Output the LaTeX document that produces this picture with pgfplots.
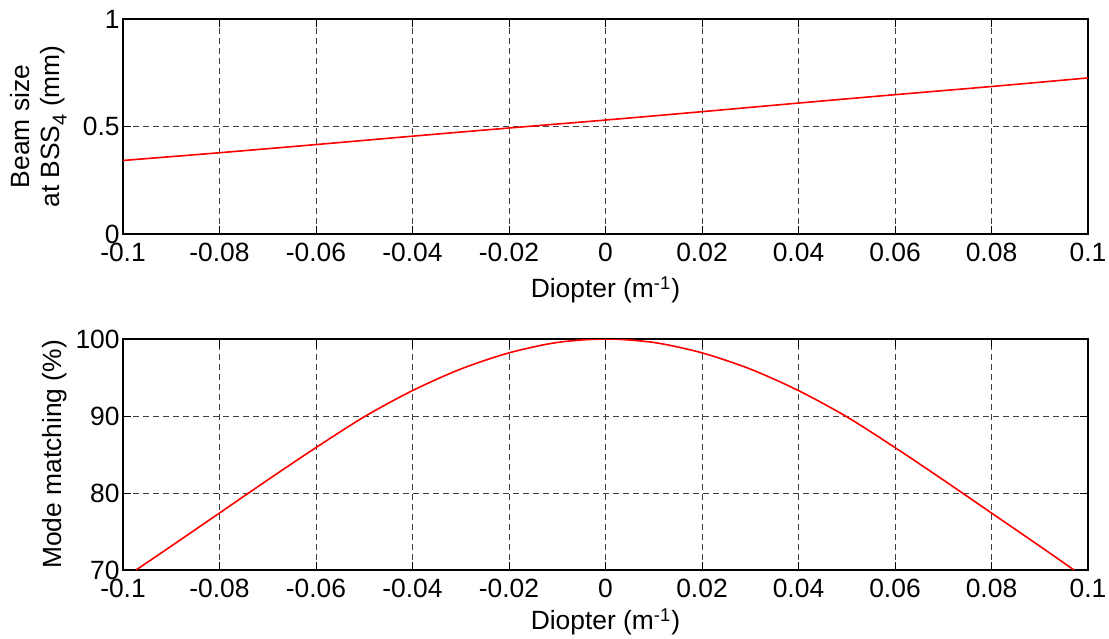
\documentclass[border=0pt]{standalone}
\usepackage{pgfplots}
\pgfplotsset{compat=1.18}
\usepackage{fontspec}
\setmainfont{Liberation Sans}
\newcommand{\bigf}{\fontsize{13.2}{15}\selectfont}
\begin{document}
\begin{tikzpicture}
\path[use as bounding box] (-61.5pt,-202pt) rectangle (493pt,117pt);
\pgfplotsset{
  mystyle/.style={
    scale only axis,
    width=482.5pt,
    xmin=-0.1, xmax=0.1,
    xtick={-0.1,-0.08,-0.06,-0.04,-0.02,0,0.02,0.04,0.06,0.08,0.1},
    xticklabels={-0.1,-0.08,-0.06,-0.04,-0.02,0,0.02,0.04,0.06,0.08,0.1},
    /pgf/number format/assume math mode=true,
    tick align=inside,
    major tick length=4pt,
    tick style={black, line width=0.4pt},
    axis line style={black, line width=0.6pt},
    grid=major,
    major grid style={black!75, dash pattern=on 3pt off 2pt, line width=0.4pt},
    xlabel={Diopter (m\textsuperscript{-1})},
    xlabel style={at={(axis description cs:0.5,0)}, anchor=north, inner sep=0pt, font=\bigf},
    ylabel style={at={(axis description cs:-0.058,0.5)}, anchor=south, inner sep=0pt, align=center, font=\bigf},
    x tick label style={yshift=-3.5pt, inner sep=1pt, font=\bigf},
    y tick label style={xshift=0pt, inner sep=1.5pt, font=\bigf},
  }
}
\begin{axis}[mystyle,
  at={(0,0)}, anchor=south west,
  height=107.5pt,
  ymin=0, ymax=1,
  ytick={0,0.5,1},
  yticklabels={0,0.5,1},
  xlabel style={yshift=-21pt},
  ylabel={Beam size\\at BSS\raisebox{-0.5ex}{\fontsize{10}{11}\selectfont 4} (mm)},
]
\addplot[red, line width=0.8pt, smooth] coordinates {
(-0.1,0.342) (-0.08,0.378) (-0.06,0.416) (-0.04,0.455) (-0.02,0.493)
(0,0.530) (0.02,0.569) (0.04,0.609) (0.06,0.648) (0.08,0.686) (0.1,0.726)
};
\end{axis}
\begin{axis}[mystyle,
  at={(0,-168pt)}, anchor=south west,
  height=115.5pt,
  ymin=70, ymax=100,
  ytick={70,80,90,100},
  yticklabels={70,80,90,100},
  xlabel style={yshift=-19pt},
  ylabel={Mode matching (\%)},
]
\addplot[red, line width=0.8pt, smooth] coordinates {
(-0.0973,70) (-0.09,73.1) (-0.08,77.4) (-0.07,81.7) (-0.06,85.9) (-0.05,89.9)
(-0.04,93.3) (-0.03,96.1) (-0.02,98.2) (-0.01,99.55) (0,100)
(0.01,99.55) (0.02,98.2) (0.03,96.1) (0.04,93.3) (0.05,89.9) (0.06,85.9)
(0.07,81.7) (0.08,77.4) (0.09,73.1) (0.0971,70)
};
\end{axis}
\end{tikzpicture}
\end{document}
